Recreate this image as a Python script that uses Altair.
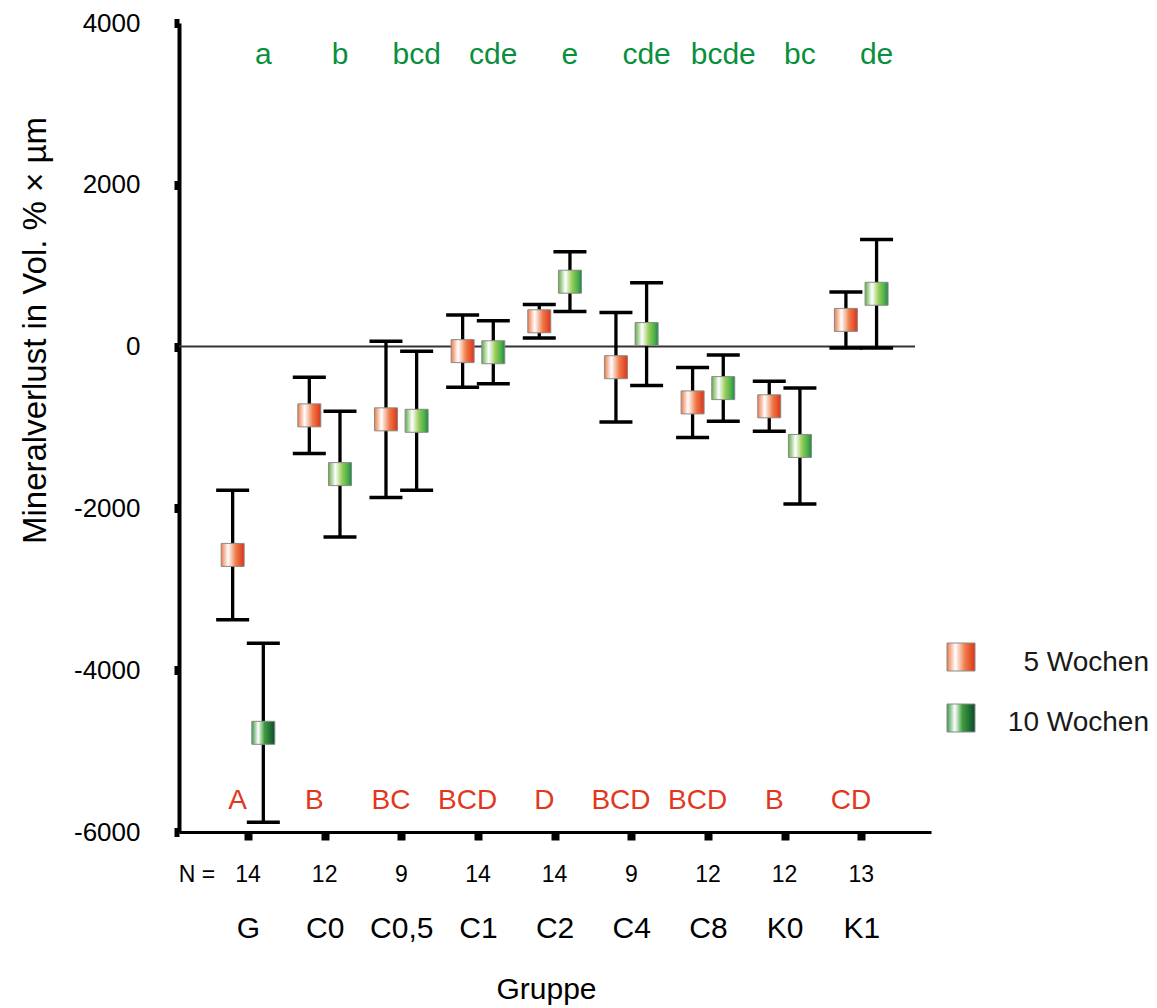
import json
import altair as alt
import pandas as pd

# ---- data ----
groups = ["G", "C0", "C0,5", "C1", "C2", "C4", "C8", "K0", "K1"]
n_values = [14, 12, 9, 14, 14, 9, 12, 12, 13]
mean_5w = [-2575, -850, -899, -56, 313, -255, -690, -738, 330]
err_5w = [800, 470, 965, 448, 206, 678, 433, 309, 346]
mean_10w = [-4774, -1576, -917, -70, 802, 155, -513, -1228, 653]
err_10w = [1107, 776, 859, 390, 369, 635, 410, 717, 670]
letters_5w = ["A", "B", "BC", "BCD", "D", "BCD", "BCD", "B", "CD"]
letters_10w = ["a", "b", "bcd", "cde", "e", "cde", "bcde", "bc", "de"]
periods = ["5 Wochen", "10 Wochen"]
y_ticks = [-6000, -4000, -2000, 0, 2000, 4000]

rows = []
for i, g in enumerate(groups):
    rows.append(dict(idx=i, group=g, period=periods[0], mean=mean_5w[i], err=err_5w[i], letter=letters_5w[i], n=n_values[i]))
    rows.append(dict(idx=i, group=g, period=periods[1], mean=mean_10w[i], err=err_10w[i], letter=letters_10w[i], n=n_values[i]))
df = pd.DataFrame(rows)
df_n = pd.DataFrame({"idx": list(range(len(groups))), "n": n_values})
df_zero = pd.DataFrame({"y": [0]})
df_leg = pd.DataFrame({"period": periods})

FONT = "Liberation Sans"
W, H = 752, 809

x_scale = alt.Scale(domain=[-0.9, 8.91], nice=False, zero=False)
y_scale = alt.Scale(domain=[-6000, 4000], nice=False, zero=False)

x_axis = alt.Axis(
    values=list(range(len(groups))),
    labelExpr=json.dumps(groups) + "[datum.value]",
    labelFontSize=30, labelColor="black", labelFont=FONT,
    labelBaseline="middle", labelPadding=88,
    tickSize=8, tickWidth=8, tickColor="black",
    domainColor="black", domainWidth=3, grid=False,
    title="Gruppe", titleFontSize=30, titleFontWeight="normal", titleFont=FONT,
    titleX=367, titleY=157, titleBaseline="middle", titleColor="black",
)
y_axis = alt.Axis(
    values=y_ticks, labelExpr="datum.value + ''",
    labelFontSize=26, labelColor="black", labelFont=FONT, labelPadding=34,
    tickSize=5, tickWidth=9, tickColor="black",
    domainColor="black", domainWidth=4, grid=False,
    title="Mineralverlust in Vol. % × µm", titleFontSize=33, titleFontWeight="normal",
    titleFont=FONT, titleColor="black", titleAngle=-90, titleX=-144, titleY=307,
    titleAlign="center", titleBaseline="middle",
)


def X(field):
    return alt.X(field, type="quantitative", scale=x_scale, axis=x_axis)


def Y(field):
    return alt.Y(field, type="quantitative", scale=y_scale, axis=y_axis)


def grad(stops):
    return alt.LinearGradient(
        gradient="linear", x1=0, x2=1, y1=0, y2=0,
        stops=[alt.GradientStop(offset=o, color=c) for o, c in stops],
    )


orange_grad = grad([(0, "#ee7a48"), (0.3, "#ffffff"), (0.65, "#ee7a48"), (1, "#dd3418")])
green_grad = grad([(0, "#62ad45"), (0.3, "#ffffff"), (0.6, "#94cb55"), (0.85, "#4aae4a"), (1, "#168a45")])
dark_green_grad = grad([(0, "#3a9a48"), (0.28, "#ffffff"), (0.55, "#3e9e3e"), (1, "#0b4a2c")])

base = alt.Chart(df).transform_calculate(
    pos="datum.idx + (datum.period == '5 Wochen' ? -0.2 : 0.2)",
    lo="datum.mean - datum.err",
    hi="datum.mean + datum.err",
)

zero = alt.Chart(df_zero).mark_rule(color="#333333", strokeWidth=2).encode(
    y=Y("y"), x=alt.value(0), x2=alt.value(736)
)

stems = base.mark_rule(color="black", strokeWidth=3.3).encode(x=X("pos"), y=Y("lo"), y2="hi:Q")
caps_hi = base.mark_tick(orient="horizontal", size=33, thickness=3.5, color="black", opacity=1).encode(x=X("pos"), y=Y("hi"))
caps_lo = base.mark_tick(orient="horizontal", size=33, thickness=3.5, color="black", opacity=1).encode(x=X("pos"), y=Y("lo"))

sq = dict(shape="square", size=529, stroke="#8a8a8a", strokeWidth=1, opacity=1, filled=True)
mk5 = base.transform_filter("datum.period == '5 Wochen'").mark_point(fill=orange_grad, **sq).encode(x=X("pos"), y=Y("mean"))
mk10 = base.transform_filter("datum.period == '10 Wochen' && datum.idx > 0").mark_point(fill=green_grad, **sq).encode(x=X("pos"), y=Y("mean"))
mk10g = base.transform_filter("datum.period == '10 Wochen' && datum.idx == 0").mark_point(fill=dark_green_grad, **sq).encode(x=X("pos"), y=Y("mean"))

let10 = base.transform_filter("datum.period == '10 Wochen'").mark_text(
    font=FONT, fontSize=30, color="#0a8f3e", baseline="middle", align="center"
).encode(x=X("pos"), y=alt.value(32), text="letter:N")
let5 = base.transform_filter("datum.period == '5 Wochen'").mark_text(
    font=FONT, fontSize=28, color="#e2371c", baseline="middle", align="center", dx=5
).encode(x=X("pos"), y=alt.value(778), text="letter:N")

ntext = alt.Chart(df_n).mark_text(font=FONT, fontSize=23, color="black", baseline="middle").encode(
    x=X("idx"), y=alt.value(852), text="n:Q"
)
nlabel = alt.Chart(df_zero).mark_text(font=FONT, fontSize=23, color="black", baseline="middle", text="N =").encode(
    x=alt.value(18), y=alt.value(852)
)

leg_sq5 = alt.Chart(df_leg).transform_filter("datum.period == '5 Wochen'").mark_point(
    shape="square", size=784, fill=orange_grad, stroke="#8a8a8a", strokeWidth=1, opacity=1, filled=True
).encode(x=alt.value(782), y=alt.value(634))
leg_sq10 = alt.Chart(df_leg).transform_filter("datum.period == '10 Wochen'").mark_point(
    shape="square", size=784, fill=dark_green_grad, stroke="#8a8a8a", strokeWidth=1, opacity=1, filled=True
).encode(x=alt.value(782), y=alt.value(695))
leg_txt5 = alt.Chart(df_leg).transform_filter("datum.period == '5 Wochen'").mark_text(
    font=FONT, fontSize=28, color="#1a1a1a", align="right", baseline="middle"
).encode(x=alt.value(970), y=alt.value(640), text="period:N")
leg_txt10 = alt.Chart(df_leg).transform_filter("datum.period == '10 Wochen'").mark_text(
    font=FONT, fontSize=28, color="#1a1a1a", align="right", baseline="middle"
).encode(x=alt.value(970), y=alt.value(700), text="period:N")

chart = alt.layer(
    zero, stems, caps_hi, caps_lo, mk5, mk10, mk10g, let10, let5, ntext, nlabel,
    leg_sq5, leg_sq10, leg_txt5, leg_txt10,
).properties(
    width=W, height=H,
    padding={"left": 179, "top": 23, "right": 226, "bottom": 176},
    autosize=alt.AutoSizeParams(type="none"),
).configure(font=FONT, view=alt.ViewConfig(stroke=None))

chart.save("out.html", embed_options={"renderer": "svg", "actions": False})
